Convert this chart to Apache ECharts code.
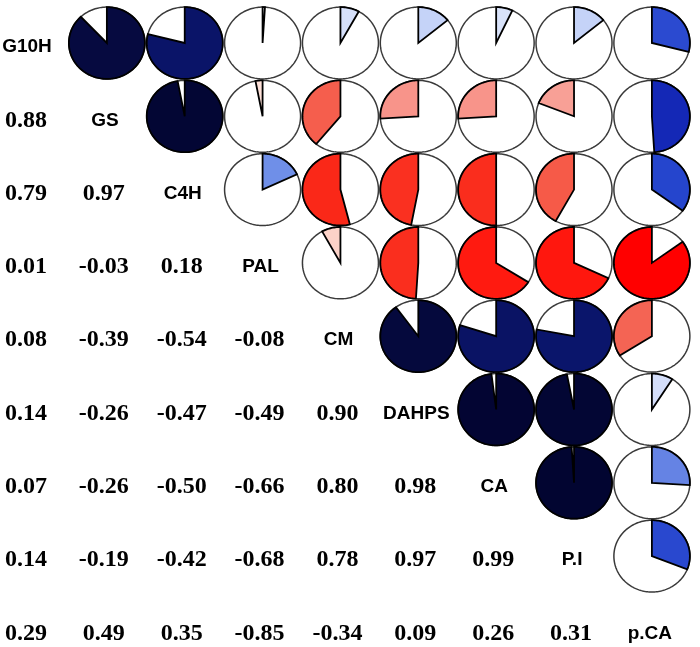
<!DOCTYPE html>
<html>
<head>
<meta charset="utf-8">
<script src="https://cdn.jsdelivr.net/npm/echarts@6/dist/echarts.min.js"></script>
<style>html,body{margin:0;padding:0;background:#fff}#c{width:700px;height:647px}</style>
</head>
<body>
<div id="c"></div>
<script>
// Variables (diagonal labels)
const vars = ['G10H', 'GS', 'C4H', 'PAL', 'CM', 'DAHPS', 'CA', 'P.I', 'p.CA'];
// Lower-triangle correlations, one array per row
const rowG10H = [];
const rowGS = [0.88];
const rowC4H = [0.79, 0.97];
const rowPAL = [0.01, -0.03, 0.18];
const rowCM = [0.08, -0.39, -0.54, -0.08];
const rowDAHPS = [0.14, -0.26, -0.47, -0.49, 0.90];
const rowCA = [0.07, -0.26, -0.50, -0.66, 0.80, 0.98];
const rowPI = [0.14, -0.19, -0.42, -0.68, 0.78, 0.97, 0.99];
const rowPCA = [0.29, 0.49, 0.35, -0.85, -0.34, 0.09, 0.26, 0.31];

const lower = [rowG10H, rowGS, rowC4H, rowPAL, rowCM, rowDAHPS, rowCA, rowPI, rowPCA];

// colour ramps
const posStops = [[0,'#ffffff'],[0.05,'#dfe7fb'],[0.145,'#c4d2f8'],[0.17,'#7090e8'],[0.265,'#6482e4'],[0.285,'#2c4ad0'],[0.36,'#2444cc'],[0.49,'#1428b6'],[0.79,'#0a1468'],[0.88,'#060a40'],[1,'#020430']];
const negStops = [[0,'#ffffff'],[0.03,'#fde0d8'],[0.08,'#fcd2c8'],[0.19,'#f8a096'],[0.26,'#f8948a'],[0.34,'#f46454'],[0.42,'#f65a48'],[0.47,'#fa3020'],[0.54,'#fa2818'],[0.66,'#ff1a10'],[0.85,'#ff0000'],[1,'#ff0000']];
function hex2rgb(h){return [parseInt(h.substr(1,2),16),parseInt(h.substr(3,2),16),parseInt(h.substr(5,2),16)];}
function ramp(stops, v){
  for (let k = 1; k < stops.length; k++) {
    if (v <= stops[k][0]) {
      const a = stops[k-1], b = stops[k];
      const t = (v - a[0]) / (b[0] - a[0]);
      const ca = hex2rgb(a[1]), cb = hex2rgb(b[1]);
      const c = ca.map((x, i) => Math.round(x + (cb[i] - x) * t));
      return 'rgb(' + c.join(',') + ')';
    }
  }
  return stops[stops.length-1][1];
}
function colorOf(r){ return r >= 0 ? ramp(posStops, r) : ramp(negStops, -r); }

const pieData = [], numData = [], labData = [];
for (let i = 0; i < vars.length; i++) {
  for (let j = 0; j < i; j++) {
    numData.push([j, i, lower[i][j]]);
    pieData.push([i, j, lower[i][j]]);
  }
  labData.push([i, i, i]);
}

function ellipsePts(cx, cy, rx, ry, a0, a1, withCenter){
  const pts = [];
  if (withCenter) pts.push([cx, cy]);
  const n = Math.max(2, Math.ceil(Math.abs(a1 - a0) / (Math.PI * 2) * 180));
  for (let k = 0; k <= n; k++) {
    const a = a0 + (a1 - a0) * k / n;
    pts.push([cx + rx * Math.cos(a), cy + ry * Math.sin(a)]);
  }
  return pts;
}

const chart = echarts.init(document.getElementById('c'), null, {renderer: 'canvas'});
chart.setOption({
  backgroundColor: '#ffffff',
  animation: false,
  grid: {left: 0, right: 0, top: 0, bottom: 0},
  xAxis: {type: 'value', min: -0.3725, max: 8.618, show: false},
  yAxis: {type: 'value', inverse: true, min: -0.5866, max: 8.24, show: false},
  series: [
    {
      type: 'custom', silent: true, data: pieData,
      renderItem: function(params, api){
        const c = api.coord([api.value(0), api.value(1)]);
        const s = api.size([1, 1]);
        const rx = s[0] * 0.488, ry = s[1] * 0.49;
        const r = api.value(2);
        const a0 = -Math.PI / 2;
        const a1 = a0 + 2 * Math.PI * r;
        return {
          type: 'group',
          children: [
            {type: 'polygon', shape: {points: ellipsePts(c[0], c[1], rx, ry, 0, Math.PI * 2, false)},
             style: {fill: '#ffffff', stroke: '#3a3a3a', lineWidth: 1.5}},
            {type: 'polygon', shape: {points: ellipsePts(c[0], c[1], rx, ry, a0, a1, true)},
             style: {fill: colorOf(r), stroke: '#000000', lineWidth: 1.8, lineJoin: 'miter'}}
          ]
        };
      }
    },
    {
      type: 'custom', silent: true, data: numData,
      renderItem: function(params, api){
        const c = api.coord([api.value(0), api.value(1)]);
        return {
          type: 'text', x: c[0] - 3, y: c[1] + 4,
          style: {text: api.value(2).toFixed(2), fill: '#000', font: 'bold 24px "Liberation Serif"', align: 'center', verticalAlign: 'middle'}
        };
      }
    },
    {
      type: 'custom', silent: true, data: labData,
      renderItem: function(params, api){
        const c = api.coord([api.value(0), api.value(1)]);
        return {
          type: 'text', x: c[0] - 2, y: c[1] + 4,
          style: {text: vars[api.value(2)], fill: '#000', font: 'bold 19px "Liberation Sans"', align: 'center', verticalAlign: 'middle'}
        };
      }
    }
  ]
});
</script>
</body>
</html>
